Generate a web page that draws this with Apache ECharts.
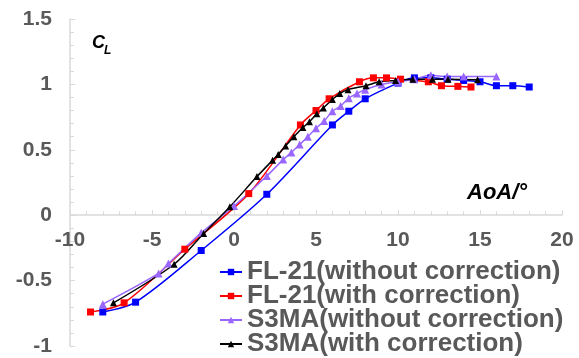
<!DOCTYPE html>
<html>
<head>
<meta charset="utf-8">
<script src="https://cdn.jsdelivr.net/npm/echarts@6/dist/echarts.min.js"></script>
<style>
  html, body { margin: 0; padding: 0; background: #fff; }
  #chart { width: 579px; height: 358px; }
</style>
</head>
<body>
<div id="chart"></div>
<script>
// FL-21 without correction
const fl21RawAoA = [-8, -6, -2, 2, 6, 7, 8, 10, 11, 12, 13, 14, 15, 16, 17, 18];
const fl21RawCL = [-0.74, -0.665, -0.27, 0.16, 0.69, 0.795, 0.89, 1.01, 1.05, 1.05, 1.04, 1.03, 1.02, 0.99, 0.99, 0.98];
// FL-21 with correction
const fl21CorAoA = [-8.75, -6.7, -3, 0.9, 4.05, 5, 5.8, 7.65, 8.5, 9.3, 10.15, 11.85, 12.65, 13.65, 14.45];
const fl21CorCL = [-0.74, -0.67, -0.26, 0.165, 0.69, 0.8, 0.89, 1.02, 1.05, 1.05, 1.04, 1.02, 0.99, 0.985, 0.98];
// S3MA without correction
const s3maRawAoA = [-8, -4.6, -4, -2, 0, 2, 3, 3.5, 4, 4.5, 5, 5.5, 6, 6.5, 7, 7.5, 8, 9, 10, 11, 12, 13, 14, 16];
const s3maRawCL = [-0.68, -0.445, -0.37, -0.135, 0.07, 0.3, 0.425, 0.48, 0.54, 0.6, 0.665, 0.72, 0.795, 0.835, 0.895, 0.93, 0.96, 1.0, 1.02, 1.04, 1.07, 1.06, 1.06, 1.06];
// S3MA with correction
const s3maCorAoA = [-7.35, -3.65, -1.85, -0.25, 1.4, 2.35, 2.7, 3.15, 3.65, 4.2, 4.6, 5.05, 5.45, 6.0, 6.45, 6.95, 8.05, 8.85, 9.85, 10.9, 12.1, 13.05, 14.85];
const s3maCorCL = [-0.67, -0.375, -0.14, 0.065, 0.295, 0.42, 0.465, 0.53, 0.6, 0.67, 0.715, 0.775, 0.82, 0.885, 0.93, 0.96, 0.99, 1.02, 1.03, 1.04, 1.04, 1.04, 1.035];

const seriesNames = ['FL-21(without correction)', 'FL-21(with correction)', 'S3MA(without correction)', 'S3MA(with correction)'];

const xMin = -10, xMax = 20, xStep = 5;
const yMin = -1, yMax = 1.5, yStep = 0.5;

const pairs = (xs, ys) => xs.map((x, i) => [x, ys[i]]);

const font = "'Liberation Sans', Arial, sans-serif";
const axisGray = '#d9d9d9';
const labelGray = '#595959';

const gridTop = 19, gridBottom = 12;
const gridH = 358 - gridTop - gridBottom;
// pull the x axis up from the grid bottom to y = 0
const xAxisOffset = -((0 - yMin) / (yMax - yMin)) * gridH;

function mkSeries(name, xs, ys, color, symbol, size) {
  return {
    name: name,
    type: 'line',
    data: pairs(xs, ys),
    smooth: 0.3,
    symbol: symbol,
    symbolSize: size,
    showAllSymbol: true,
    itemStyle: { color: color },
    lineStyle: { color: color, width: 1.5 },
    emphasis: { disabled: true },
  };
}

const chart = echarts.init(document.getElementById('chart'));
chart.setOption({
  animation: false,
  textStyle: { fontFamily: font },
  grid: { left: 70, right: 17, top: gridTop, bottom: gridBottom, containLabel: false, outerBoundsMode: 'none' },
  xAxis: {
    type: 'value',
    min: xMin,
    max: xMax,
    interval: xStep,
    position: 'bottom',
    offset: xAxisOffset,
    axisLine: { onZero: false, lineStyle: { color: axisGray, width: 1.5 } },
    axisTick: { inside: true, length: 5, lineStyle: { color: axisGray } },
    minorTick: { show: true, splitNumber: 5, length: 4, lineStyle: { color: axisGray } },
    axisLabel: { color: labelGray, fontSize: 21, fontWeight: 'bold', margin: 15, fontFamily: font },
    splitLine: { show: false },
  },
  yAxis: {
    type: 'value',
    min: yMin,
    max: yMax,
    interval: yStep,
    axisLine: { show: true, onZero: false, lineStyle: { color: axisGray, width: 1.5 } },
    axisTick: { show: true, inside: true, length: 5, lineStyle: { color: axisGray } },
    minorTick: { show: true, splitNumber: 5, length: 4, lineStyle: { color: axisGray } },
    axisLabel: { color: labelGray, fontSize: 21, fontWeight: 'bold', margin: 18, fontFamily: font },
    splitLine: { show: false },
  },
  legend: {
    data: seriesNames,
    orient: 'vertical',
    left: 219,
    top: 259,
    height: 120,
    itemWidth: 22,
    itemHeight: 8,
    itemGap: -2,
    padding: 0,
    textStyle: { color: labelGray, fontSize: 26, fontWeight: 'bold', fontFamily: font },
  },
  graphic: [
    {
      type: 'text',
      left: 92,
      top: 34,
      style: { text: 'C', font: "italic bold 18px 'Liberation Sans', Arial", fill: '#000' },
    },
    {
      type: 'text',
      left: 104,
      top: 45,
      style: { text: 'L', font: "italic bold 12px 'Liberation Sans', Arial", fill: '#000' },
    },
    {
      type: 'text',
      left: 467,
      top: 182,
      style: { text: 'AoA/°', font: "italic bold 22px 'Liberation Sans', Arial", fill: '#000' },
    },
  ],
  series: [
    mkSeries(seriesNames[0], fl21RawAoA, fl21RawCL, '#0000ff', 'rect', 7),
    mkSeries(seriesNames[1], fl21CorAoA, fl21CorCL, '#ff0000', 'rect', 7),
    mkSeries(seriesNames[2], s3maRawAoA, s3maRawCL, '#9966ff', 'triangle', 8),
    mkSeries(seriesNames[3], s3maCorAoA, s3maCorCL, '#000000', 'triangle', 7),
  ],
});
</script>
</body>
</html>
